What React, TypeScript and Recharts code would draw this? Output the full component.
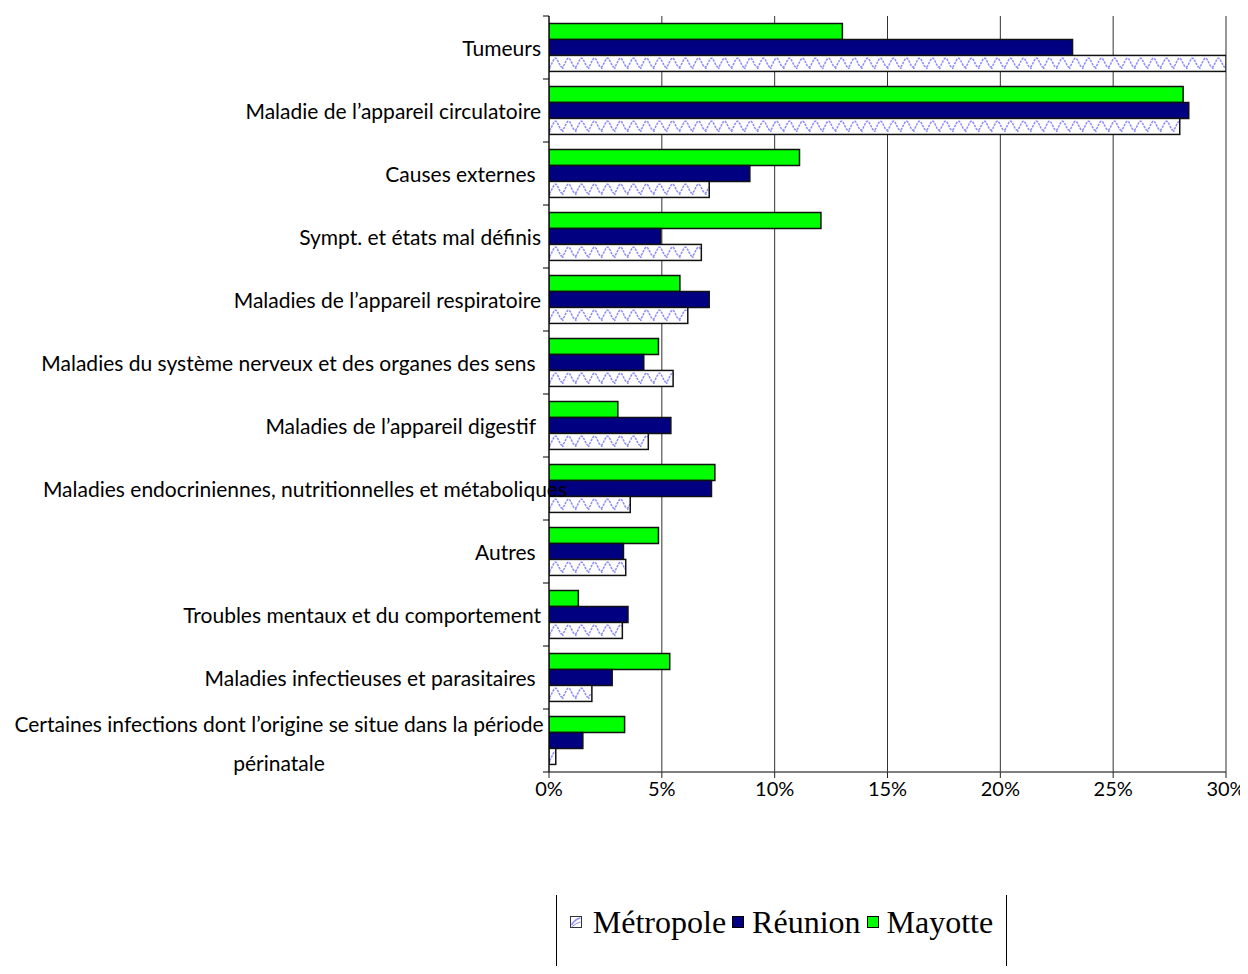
import React from 'react';
import { BarChart, Bar, XAxis, YAxis, CartesianGrid, Legend } from 'recharts';

const categories = [
  'Tumeurs',
  'Maladie de l’appareil circulatoire',
  'Causes externes ',
  'Sympt. et états mal définis',
  'Maladies de l’appareil respiratoire',
  'Maladies du système nerveux et des organes des sens ',
  'Maladies de l’appareil digestif ',
  'Maladies endocriniennes, nutritionnelles et métaboliques',
  'Autres ',
  'Troubles mentaux et du comportement',
  'Maladies infectieuses et parasitaires ',
  'Certaines infections dont l’origine se situe dans la période\npérinatale',
];
const metropole = [30.0, 27.95, 7.1, 6.75, 6.15, 5.5, 4.4, 3.6, 3.4, 3.25, 1.9, 0.3];
const reunion = [23.2, 28.35, 8.9, 4.95, 7.1, 4.2, 5.4, 7.2, 3.3, 3.5, 2.8, 1.5];
const mayotte = [13.0, 28.1, 11.1, 12.05, 5.8, 4.85, 3.05, 7.35, 4.85, 1.3, 5.35, 3.35];
const xTicks = [0, 5, 10, 15, 20, 25, 30];
const seriesNames = ['Métropole', 'Réunion', 'Mayotte'];

const data = categories.map((c, i) => ({
  name: c,
  metropole: metropole[i],
  reunion: reunion[i],
  mayotte: mayotte[i],
}));

const LABEL_FONT = 'Lato, "Open Sans", sans-serif';
const LABEL_SIZE = 21;
const GREEN = '#00FF00';
const NAVY = '#000080';
const WAVE = '#8c8cff';

let measureCtx: CanvasRenderingContext2D | null = null;
function textWidth(t: string): number {
  if (typeof document === 'undefined') return t.length * 9;
  if (!measureCtx) {
    const c = document.createElement('canvas');
    measureCtx = c.getContext('2d');
  }
  if (!measureCtx) return t.length * 9;
  measureCtx.font = `${LABEL_SIZE}px ${LABEL_FONT}`;
  return measureCtx.measureText(t).width;
}

const CategoryTick = (props: any) => {
  const { x, y, payload, index, visibleTicksCount } = props;
  const axisX = x + 8;
  const off = payload && payload.offset ? payload.offset : 31.46;
  const label: string = String(payload.value);
  const lines = label.split('\n');
  const isLast = index === (visibleTicksCount ? visibleTicksCount - 1 : categories.length - 1);
  const tickLines = (
    <g>
      <line x1={axisX - 6} x2={axisX} y1={y - off} y2={y - off} stroke="#000" strokeWidth={1} />
      {isLast ? <line x1={axisX - 6} x2={axisX} y1={y + off} y2={y + off} stroke="#000" strokeWidth={1} /> : null}
    </g>
  );
  const textStyle: any = { whiteSpace: 'pre' };
  if (lines.length > 1) {
    const cx = 271;
    return (
      <g>
        {tickLines}
        <text x={cx} y={y - 17} textAnchor="middle" dominantBaseline="central" fontFamily={LABEL_FONT} fontSize={LABEL_SIZE} fill="#000" style={textStyle}>{lines[0]}</text>
        <text x={cx} y={y + 22} textAnchor="middle" dominantBaseline="central" fontFamily={LABEL_FONT} fontSize={LABEL_SIZE} fill="#000" style={textStyle}>{lines[1]}</text>
      </g>
    );
  }
  const w = textWidth(label);
  if (w > x - 20) {
    return (
      <g>
        {tickLines}
        <text x={297} y={y} textAnchor="middle" dominantBaseline="central" fontFamily={LABEL_FONT} fontSize={LABEL_SIZE} fill="#000" style={textStyle}>{label}</text>
      </g>
    );
  }
  return (
    <g>
      {tickLines}
      <text x={x} y={y} textAnchor="end" dominantBaseline="central" fontFamily={LABEL_FONT} fontSize={LABEL_SIZE} fill="#000" style={textStyle}>{label}</text>
    </g>
  );
};

const PatternBar = (props: any) => {
  const { x, y, width, height } = props;
  if (!width || width <= 0) return null;
  const pts: string[] = [];
  const mid = y + height * 0.45;
  const amp = height * 0.28;
  for (let t = 0; t <= width; t += 1) {
    const yy = mid + amp * Math.cos((2 * Math.PI * t) / 13);
    pts.push(`${(x + t).toFixed(2)},${yy.toFixed(2)}`);
  }
  const dots: React.ReactNode[] = [];
  for (let t = 0; t <= width - 2; t += 13) {
    dots.push(<rect key={t} x={x + t} y={y + height - 4} width={1.6} height={1.6} fill={WAVE} />);
  }
  return (
    <g>
      <rect x={x} y={y} width={width} height={height} fill="#fff" />
      <polyline points={pts.join(' ')} fill="none" stroke={WAVE} strokeWidth={1.5} strokeDasharray="2.5 1" />
      {dots}
      <rect x={x} y={y} width={width} height={height} fill="none" stroke="#111" strokeWidth={1.5} />
    </g>
  );
};

const Swatch = ({ kind }: { kind: number }) => {
  if (kind === 0) {
    return (
      <svg width={12} height={12} style={{ marginRight: 11 }}>
        <rect x={0.5} y={0.5} width={11} height={11} fill="#fff" stroke="#333" />
        <path d="M1.5 9 Q5 3 10.5 2" stroke={WAVE} strokeWidth={1.5} fill="none" />
        <path d="M1.5 11 Q6 7 10.5 6" stroke={WAVE} strokeWidth={1} fill="none" />
      </svg>
    );
  }
  return (
    <svg width={12} height={12} style={{ marginRight: 8 }}>
      <rect x={0.5} y={0.5} width={11} height={11} fill={kind === 1 ? NAVY : GREEN} stroke="#000" />
    </svg>
  );
};

const renderLegend = () => (
  <div
    style={{
      width: 451,
      height: 71,
      borderLeft: '1px solid #000',
      borderRight: '1px solid #000',
      display: 'flex',
      alignItems: 'flex-start',
      justifyContent: 'center',
      boxSizing: 'border-box',
      paddingTop: 9,
      fontFamily: '"Liberation Serif", "Times New Roman", serif',
      fontSize: 32,
      lineHeight: '36px',
      color: '#000',
    }}
  >
    {seriesNames.map((n, i) => (
      <div key={n} style={{ display: 'flex', alignItems: 'center', marginRight: i < 2 ? 6 : 0 }}>
        <Swatch kind={i} />
        <span>{n}</span>
      </div>
    ))}
  </div>
);

export default function App() {
  return (
    <div style={{ width: 1240, height: 958, position: 'relative' }}>
      <style>{'html { overflow: hidden; } .recharts-surface { overflow: visible; } .recharts-wrapper { overflow: visible; }'}</style>
      <BarChart
        width={1240}
        height={958}
        data={data}
        layout="vertical"
        margin={{ top: 8, right: 22, bottom: 83, left: 0 }}
        barCategoryGap="11.8%"
        barGap={0}
      >
        <CartesianGrid horizontal={false} vertical={true} stroke="#333" strokeWidth={1} />
        <XAxis
          type="number"
          domain={[0, 30]}
          ticks={xTicks}
          interval={0}
          allowDataOverflow
          tickFormatter={(v: number) => `${v}%`}
          axisLine={{ stroke: '#555', strokeWidth: 1.5 }}
          tickLine={{ stroke: '#222' }}
          tickSize={6}
          tickMargin={4}
          height={40}
          tick={{ fontFamily: LABEL_FONT, fontSize: 20, fill: '#000' }}
        />
        <YAxis
          type="category"
          dataKey="name"
          width={541}
          interval={0}
          tickSize={0}
          tickMargin={8}
          axisLine={{ stroke: '#000', strokeWidth: 1 }}
          tickLine={false}
          tick={<CategoryTick />}
        />
        <Bar dataKey="mayotte" name="Mayotte" fill={GREEN} stroke="#111" strokeWidth={1.5} isAnimationActive={false} />
        <Bar dataKey="reunion" name="Réunion" fill={NAVY} stroke="#111" strokeWidth={1.5} isAnimationActive={false} />
        <Bar dataKey="metropole" name="Métropole" fill="#fff" shape={<PatternBar />} isAnimationActive={false} />
        <Legend
          content={renderLegend}
          wrapperStyle={{ position: 'absolute', left: 548, top: 887, width: 451, height: 71 }}
        />
      </BarChart>
    </div>
  );
}
